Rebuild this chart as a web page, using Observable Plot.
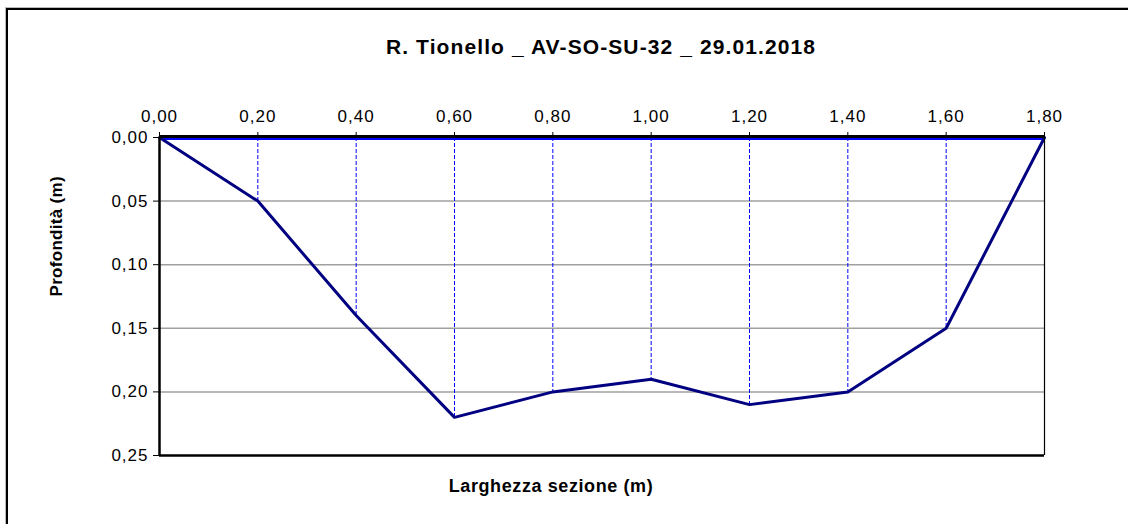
<!DOCTYPE html>
<html>
<head>
<meta charset="utf-8">
<script src="https://cdn.jsdelivr.net/npm/d3@7"></script>
<script src="https://cdn.jsdelivr.net/npm/@observablehq/plot@0.6"></script>
<style>
  html, body { margin: 0; padding: 0; background: #fff; }
  #wrap { position: relative; width: 1128px; height: 524px; overflow: hidden; font-family: "Liberation Sans", Arial, sans-serif; }
  #border { position: absolute; left: 6px; top: 8px; width: 1200px; height: 600px; border-top: 2px solid #000; border-left: 2px solid #000; box-shadow: -1px -1px 0 #bbb; }
  #titlebox { position: relative; height: 70px; }
  #title { position: absolute; left: 601px; top: 34px; transform: translateX(-50%); white-space: nowrap; font-size: 21px; font-weight: bold; letter-spacing: 1.1px; line-height: 26px; color: #000; }
  #chart { position: relative; }
  g[aria-label="x-axis tick label"] text, g[aria-label="y-axis tick label"] text { font-size: 17px !important; letter-spacing: 1px; }
  text.xl, .xl text { font-size: 18px !important; letter-spacing: 0.6px; }
  text.yl, .yl text { font-size: 17px !important; letter-spacing: 0.3px; }
</style>
</head>
<body>
<div id="wrap">
  <div id="border"></div>
  <div id="titlebox"><div id="title">R. Tionello _ AV-SO-SU-32 _ 29.01.2018</div></div>
  <div id="chart"></div>
</div>
<script>
const widths = [0.00, 0.20, 0.40, 0.60, 0.80, 1.00, 1.20, 1.40, 1.60, 1.80];
const depths = [0.00, 0.05, 0.14, 0.22, 0.20, 0.19, 0.21, 0.20, 0.15, 0.00];
const xTicks = [0.00, 0.20, 0.40, 0.60, 0.80, 1.00, 1.20, 1.40, 1.60, 1.80];
const yTicks = [0.00, 0.05, 0.10, 0.15, 0.20, 0.25];
const xLabel = "Larghezza sezione (m)";
const yLabel = "Profondità (m)";

const data = widths.map((w, i) => ({x: w, y: depths[i]}));
const inner = data.filter((d, i) => i > 0 && i < data.length - 1);
const fmt = v => d3.format(".2f")(v).replace(".", ",");

const chart = Plot.plot({
  width: 1128,
  height: 454,
  marginTop: 67,
  marginBottom: 69,
  marginLeft: 159,
  marginRight: 84,
  style: {fontFamily: '"Liberation Sans", Arial, sans-serif', color: "#000", background: "transparent", overflow: "visible"},
  x: {domain: [0, 1.8]},
  y: {domain: [0, 0.25], reverse: true},
  marks: [
    Plot.gridY(yTicks.slice(1, -1), {stroke: "#a0a0a0", strokeOpacity: 1, strokeWidth: 1.5}),
    Plot.ruleX(inner, {x: "x", y1: 0, y2: "y", stroke: "#0000ff", strokeWidth: 1, strokeDasharray: "4,2"}),
    Plot.ruleY([0], {stroke: "#0000ff", strokeWidth: 2, dy: 1.5}),
    Plot.line(data, {x: "x", y: "y", stroke: "#000080", strokeWidth: 3}),
    Plot.ruleX([0], {stroke: "#000", strokeWidth: 2.5}),
    Plot.ruleX([1.8], {stroke: "#000", strokeWidth: 1.2}),
    Plot.ruleY([0.25], {stroke: "#000", strokeWidth: 2.5}),
    Plot.ruleY([0], {stroke: "#000", strokeWidth: 3, dy: -1}),
    Plot.axisX({anchor: "top", ticks: xTicks, tickFormat: fmt, tickSize: 6, tickPadding: 10, label: null, stroke: "#000"}),
    Plot.axisY({anchor: "left", ticks: yTicks, tickFormat: fmt, tickSize: 6, tickPadding: 5, label: null, stroke: "#000"}),
    Plot.text([xLabel], {frameAnchor: "bottom", dx: -51, dy: 36, fontSize: 18, fontWeight: "bold", fill: "#000", className: "xl"}),
    Plot.text([yLabel], {frameAnchor: "left", dx: -103, rotate: -90, fontSize: 17, fontWeight: "bold", fill: "#000", className: "yl"})
  ]
});
document.getElementById("chart").appendChild(chart);
</script>
</body>
</html>
